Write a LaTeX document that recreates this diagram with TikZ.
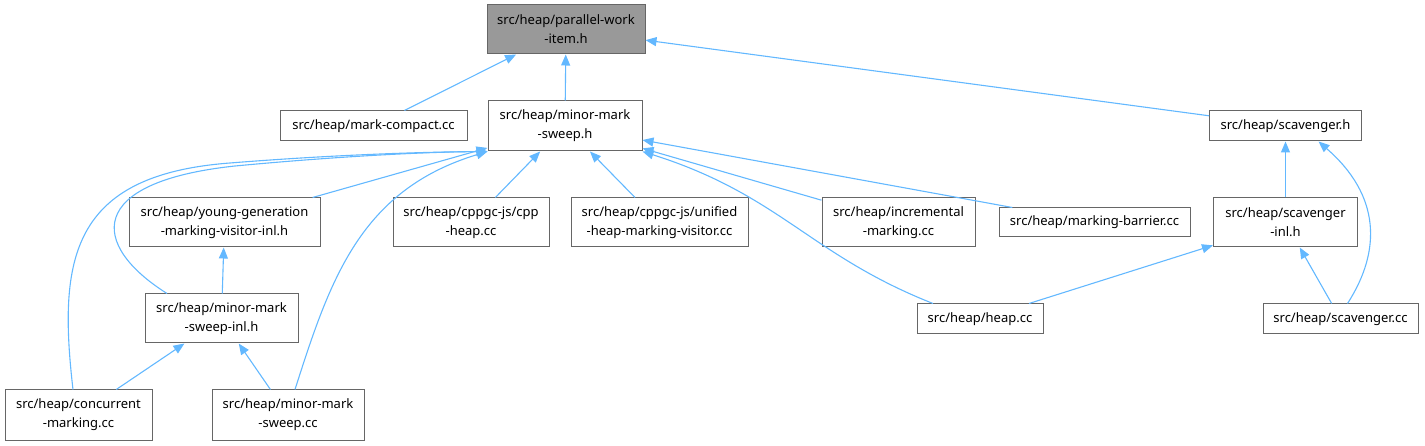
\documentclass[tikz,border=0pt]{standalone}
\usepackage{fontspec}
\setmainfont{Noto Sans}
\usetikzlibrary{arrows.meta}
\definecolor{edgeblue}{HTML}{63B8FF}
\definecolor{boxgray}{HTML}{666666}
\definecolor{rootgray}{HTML}{999999}
\begin{document}
\begin{tikzpicture}[x=1pt,y=-1pt,
  file/.style={draw=boxgray, line width=1pt, fill=white, align=center, inner sep=0pt, font=\fontsize{13}{19}\selectfont},
  dep/.style={draw=edgeblue, line width=1.1pt, -{Triangle[length=11pt,width=9pt]}}]
\useasboundingbox (0,0) rectangle (1425,446);

\node[file, fill=rootgray, minimum width=158pt, minimum height=49pt] (pwi) at (566,29.5) {src/heap/parallel-work\\-item.h};

\node[file, minimum width=187pt, minimum height=30pt] (mc) at (373.5,126) {src/heap/mark-compact.cc};
\node[file, minimum width=154pt, minimum height=50pt] (mmsh) at (565,126) {src/heap/minor-mark\\-sweep.h};
\node[file, minimum width=152pt, minimum height=30pt] (scavh) at (1285.5,126) {src/heap/scavenger.h};

\node[file, minimum width=191pt, minimum height=49pt] (ygv) at (224.5,222.5) {src/heap/young-generation\\-marking-visitor-inl.h};
\node[file, minimum width=156pt, minimum height=49pt] (cpph) at (471,222.5) {src/heap/cppgc-js/cpp\\-heap.cc};
\node[file, minimum width=177pt, minimum height=49pt] (uhmv) at (659.5,222.5) {src/heap/cppgc-js/unified\\-heap-marking-visitor.cc};
\node[file, minimum width=153pt, minimum height=49pt] (incr) at (898.5,222.5) {src/heap/incremental\\-marking.cc};
\node[file, minimum width=191pt, minimum height=29pt] (mb) at (1094.5,222.5) {src/heap/marking-barrier.cc};
\node[file, minimum width=144pt, minimum height=49pt] (scavinl) at (1285.5,222.5) {src/heap/scavenger\\-inl.h};

\node[file, minimum width=153pt, minimum height=49pt] (mmsinl) at (221.5,318.5) {src/heap/minor-mark\\-sweep-inl.h};
\node[file, minimum width=126pt, minimum height=30pt] (heapcc) at (980,319) {src/heap/heap.cc};
\node[file, minimum width=155pt, minimum height=30pt] (scavcc) at (1340.5,319) {src/heap/scavenger.cc};

\node[file, minimum width=147pt, minimum height=50pt] (conc) at (78.5,415) {src/heap/concurrent\\-marking.cc};
\node[file, minimum width=152pt, minimum height=50pt] (mmscc) at (288,415) {src/heap/minor-mark\\-sweep.cc};

\draw[dep] (mc) -- (pwi);
\draw[dep] (mmsh) -- (pwi);
\draw[dep] (scavh) -- (pwi);

\draw[dep] (ygv) -- (mmsh);
\draw[dep] (cpph) -- (mmsh);
\draw[dep] (uhmv) -- (mmsh);
\draw[dep] (incr) -- (mmsh);
\draw[dep] (mb) -- (mmsh);
\draw[dep] ([xshift=-47pt]heapcc.north) .. controls (810,255) and (780,195) .. (mmsh.south east);
\draw[dep] ([xshift=-5.5pt]conc.north) .. controls (58,260) and (70,175) .. (230,163) .. controls (330,155) and (420,152) .. (mmsh.south west);
\draw[dep] ([xshift=-54.5pt]mmsinl.north) .. controls (90,245) and (85,182) .. (235,166) .. controls (330,157) and (420,152) .. (mmsh.south west);
\draw[dep] ([xshift=7pt]mmscc.north) .. controls (330,280) and (360,190) .. (mmsh.south west);

\draw[dep] (mmsinl) -- (ygv);
\draw[dep] (conc) -- (mmsinl);
\draw[dep] (mmscc) -- (mmsinl);

\draw[dep] (scavinl) -- (scavh);
\draw[dep] ([xshift=7pt]scavcc.north) .. controls (1382,250) and (1380,195) .. ([xshift=33pt]scavh.south);
\draw[dep] (heapcc) -- (scavinl);
\draw[dep] (scavcc) -- (scavinl);
\end{tikzpicture}
\end{document}
